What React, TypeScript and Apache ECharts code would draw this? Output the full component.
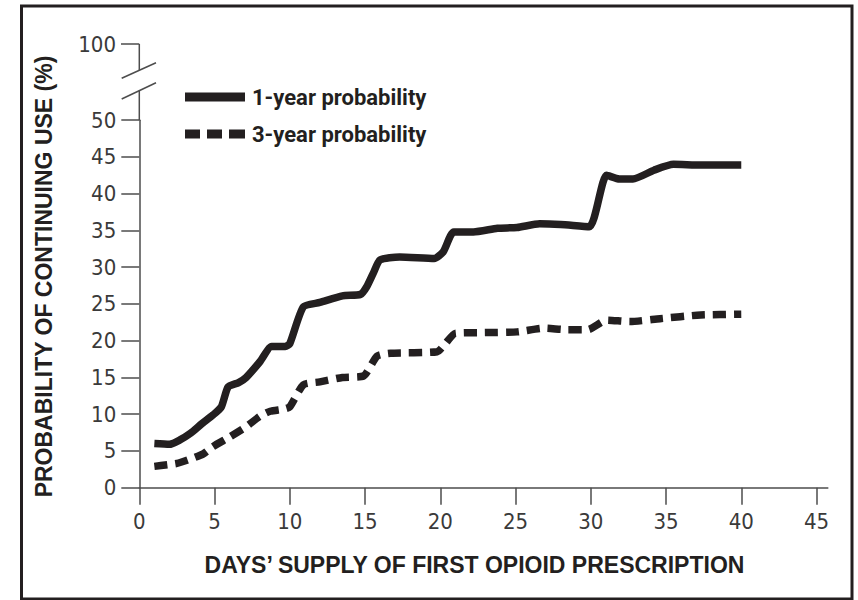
import React, { useEffect, useRef } from "react";
import * as echarts from "echarts";

const seriesNames = ["1-year probability", "3-year probability"];

const oneYearDays = [1, 2, 2.7, 3.4, 4.15, 4.9, 5.45, 5.9, 6.6, 7.1, 8.0, 8.8, 9.7, 10.0, 10.9, 12.0, 13.5, 14.7, 15.1, 15.55, 16.0, 17.3, 19.6, 20.2, 20.9, 22.2, 23.8, 25.1, 26.6, 28.0, 29.9, 31.05, 31.9, 32.8, 34.2, 35.5, 37.3, 40];
const oneYearPct = [6.0, 5.9, 6.5, 7.4, 8.7, 9.9, 11.0, 13.7, 14.3, 15.0, 17.1, 19.2, 19.2, 19.6, 24.6, 25.2, 26.1, 26.3, 27.3, 29.2, 31.0, 31.4, 31.2, 32.1, 34.8, 34.8, 35.3, 35.4, 35.9, 35.8, 35.5, 42.5, 42.0, 42.0, 43.2, 44.0, 43.9, 43.9];

const threeYearDays = [1, 2.5, 3.4, 4.25, 4.9, 6.0, 7.1, 8.0, 8.7, 9.6, 10.0, 10.9, 12.0, 13.5, 14.9, 15.8, 16.7, 19.8, 20.3, 21.0, 22.9, 25.1, 26.9, 28.4, 29.8, 31.05, 32.6, 34.6, 37.3, 40];
const threeYearPct = [2.9, 3.3, 3.9, 4.6, 5.6, 6.9, 8.3, 9.7, 10.4, 10.7, 11.0, 14.0, 14.4, 15.0, 15.2, 17.9, 18.3, 18.5, 19.5, 21.0, 21.1, 21.2, 21.7, 21.5, 21.5, 22.8, 22.6, 23.0, 23.5, 23.6];

const xTicks = [0, 5, 10, 15, 20, 25, 30, 35, 40, 45];
const yTicks = [0, 5, 10, 15, 20, 25, 30, 35, 40, 45, 50];
const breakLabel = "100";
const xTitle = "DAYS’ SUPPLY OF FIRST OPIOID PRESCRIPTION";
const yTitle = "PROBABILITY OF CONTINUING USE (%)";

const INK = "#231f20";
const AXIS = "#4d4d4d";
const LABEL = "#3a3a3a";
const TICK_FONT = '"Liberation Sans Narrow", "DejaVu Sans Condensed", Roboto, sans-serif';
const TITLE_FONT = '"Liberation Sans", Arial, sans-serif';
const LEGEND_FONT = 'Roboto, "Liberation Sans", sans-serif';

const SOLID_ICON = "path://M0,0h60v9h-60z";
const DASH_ICON = "path://M0,0h15v9h-15z M22,0h15v9h-15z M44,0h16v9h-16z";

export default function App() {
  const ref = useRef<HTMLDivElement>(null);
  useEffect(() => {
    if (!ref.current) return;
    const chart = echarts.init(ref.current, undefined, { renderer: "svg" });
    const zip = (xs: number[], ys: number[]) => xs.map((x, i) => [x, ys[i]]);
    const axX = 139.3;
    chart.setOption({
      animation: false,
      backgroundColor: "#ffffff",
      grid: { left: axX, right: 30.2, top: 120.2, bottom: 112.3, containLabel: false },
      xAxis: {
        type: "value",
        min: 0,
        max: 45.75,
        interval: 5,
        axisLine: { show: true, lineStyle: { color: AXIS, width: 1.5 } },
        axisTick: { show: true, length: 17, lineStyle: { color: AXIS, width: 1.5 }, customValues: xTicks },
        axisLabel: {
          customValues: xTicks,
          margin: 23,
          color: LABEL,
          fontSize: 22,
          fontFamily: TICK_FONT,
        },
        splitLine: { show: false },
      },
      yAxis: {
        type: "value",
        min: 0,
        max: 50,
        interval: 5,
        axisLine: { show: true, lineStyle: { color: AXIS, width: 1.5 } },
        axisTick: { show: true, length: 18, lineStyle: { color: AXIS, width: 1.5 }, customValues: yTicks },
        axisLabel: {
          customValues: yTicks,
          margin: 23,
          color: LABEL,
          fontSize: 22,
          fontFamily: TICK_FONT,
        },
        splitLine: { show: false },
      },
      legend: {
        orient: "vertical",
        left: 185,
        top: 84,
        padding: 0,
        itemWidth: 60,
        itemHeight: 9,
        itemGap: 11,
        selectedMode: false,
        itemStyle: { color: INK, borderWidth: 0 },
        textStyle: {
          color: INK,
          fontSize: 22,
          lineHeight: 26,
          fontWeight: "bold",
          fontFamily: LEGEND_FONT,
          padding: [0, 0, 0, 2],
        },
        data: [
          { name: seriesNames[0], icon: SOLID_ICON },
          { name: seriesNames[1], icon: DASH_ICON },
        ],
      },
      series: [
        {
          name: seriesNames[0],
          type: "line",
          data: zip(oneYearDays, oneYearPct),
          symbol: "none",
          smooth: 0.2,
          lineStyle: { color: INK, width: 7.5, cap: "butt", join: "round" },
          itemStyle: { color: INK },
        },
        {
          name: seriesNames[1],
          type: "line",
          data: zip(threeYearDays, threeYearPct),
          symbol: "none",
          smooth: 0.2,
          lineStyle: { color: INK, width: 7.5, type: [13, 8], cap: "butt", join: "round" },
          itemStyle: { color: INK },
        },
      ],
      graphic: [
        {
          type: "rect",
          z: 100,
          shape: { x: 21.5, y: 6, width: 830.5, height: 593 },
          style: { fill: "none", stroke: INK, lineWidth: 3 },
        },
        { type: "line", z: 100, shape: { x1: axX, y1: 44, x2: axX, y2: 70.5 }, style: { stroke: AXIS, lineWidth: 1.5 } },
        { type: "line", z: 100, shape: { x1: 121, y1: 44, x2: axX, y2: 44 }, style: { stroke: AXIS, lineWidth: 1.5 } },
        { type: "line", z: 100, shape: { x1: axX, y1: 90.5, x2: axX, y2: 120.2 }, style: { stroke: AXIS, lineWidth: 1.5 } },
        { type: "line", z: 100, shape: { x1: 121.7, y1: 78.3, x2: 156, y2: 62.7 }, style: { stroke: AXIS, lineWidth: 1.5 } },
        { type: "line", z: 100, shape: { x1: 121.7, y1: 99, x2: 156, y2: 82.7 }, style: { stroke: AXIS, lineWidth: 1.5 } },
        {
          type: "text",
          z: 100,
          x: 116,
          y: 44,
          style: { text: breakLabel, fill: LABEL, font: `22px ${TICK_FONT}`, align: "right", verticalAlign: "middle" },
        },
        {
          type: "text",
          z: 100,
          x: 474.5,
          y: 565,
          style: { text: xTitle, fill: INK, font: `bold 23px ${TITLE_FONT}`, align: "center", verticalAlign: "middle" },
        },
        {
          type: "text",
          z: 100,
          x: 43.5,
          y: 276.5,
          rotation: Math.PI / 2,
          style: { text: yTitle, fill: INK, font: `bold 23px ${TITLE_FONT}`, align: "center", verticalAlign: "middle" },
        },
      ],
    });
    return () => chart.dispose();
  }, []);
  return <div ref={ref} style={{ position: "fixed", left: 0, top: 0, width: 858, height: 600 }} />;
}
